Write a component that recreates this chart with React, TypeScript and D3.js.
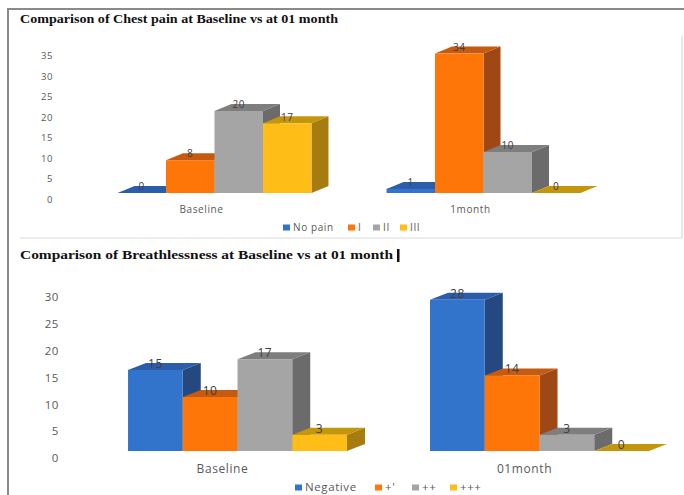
import React from 'react';
import * as d3 from 'd3';

// ---------- DATA ----------
const chestCategories = ['Baseline', '1month'];
const chestSeries = ['No pain', 'I', 'II', 'III'];
const chestNoPain = [0, 1];
const chestI = [8, 34];
const chestII = [20, 10];
const chestIII = [17, 0];
const chestTicks = [0, 5, 10, 15, 20, 25, 30, 35];

const breathCategories = ['Baseline', '01month'];
const breathSeries = ['Negative', "+'", '++', '+++'];
const breathNegative = [15, 28];
const breathPlus1 = [10, 14];
const breathPlus2 = [17, 3];
const breathPlus3 = [3, 0];
const breathTicks = [0, 5, 10, 15, 20, 25, 30];

// ---------- STYLE ----------
const palette = [
  { front: '#3274CC', top: '#2C5DAA', side: '#24487F' },
  { front: '#FF7608', top: '#C55A11', side: '#A04716' },
  { front: '#A5A5A5', top: '#7E7E7E', side: '#6B6B6B' },
  { front: '#FFBE17', top: '#C4960C', side: '#A67C10' },
];
const FONT = "'Open Sans', Lato, sans-serif";

type ChartProps = {
  title: string;
  titleX: number;
  titleY: number;
  titleSize: number;
  titleLen: number;
  categories: string[];
  series: string[];
  values: number[][];
  ticks: number[];
  xRange: [number, number];
  padding: number;
  baseY: number;
  pxPerUnit: number;
  tickBase: number;
  tickPx: number;
  tickX: number;
  dx: number;
  dy: number;
  catLabelY: number;
  catOffset: number;
  fontSize: number;
  spacing: number;
  legendX: number[];
  legendY: number;
  legendSq: number;
  legendFont: number;
};

function Chart3D(p: ChartProps) {
  const maxT = p.ticks[p.ticks.length - 1];
  const x0 = d3
    .scaleBand<string>()
    .domain(p.categories)
    .range(p.xRange)
    .paddingInner(p.padding)
    .paddingOuter(p.padding / 2);
  const x1 = d3.scaleBand<string>().domain(p.series).range([0, x0.bandwidth()]).padding(0);
  const y = d3.scaleLinear().domain([0, maxT]).range([p.baseY, p.baseY - maxT * p.pxPerUnit]);
  const yTick = d3.scaleLinear().domain([0, maxT]).range([p.tickBase, p.tickBase - maxT * p.tickPx]);
  const bw = x1.bandwidth();

  const bars: JSX.Element[] = [];
  const labels: JSX.Element[] = [];
  p.categories.forEach((cat, ci) => {
    p.series.forEach((s, si) => {
      const v = p.values[si][ci];
      const xl = (x0(cat) as number) + (x1(s) as number);
      const xr = xl + bw;
      const yt = y(v);
      const yb = y(0);
      const c = palette[si];
      const side = `M${xr},${yb} L${xr + p.dx},${yb + p.dy} L${xr + p.dx},${yt + p.dy} L${xr},${yt} Z`;
      const top = `M${xl},${yt} L${xr},${yt} L${xr + p.dx},${yt + p.dy} L${xl + p.dx},${yt + p.dy} Z`;
      bars.push(
        <g key={`${ci}-${si}`}>
          <path d={side} fill={c.side} />
          <path d={top} fill={c.top} />
          <rect x={xl} y={yt} width={bw} height={Math.max(0, yb - yt)} fill={c.front} />
        </g>
      );
      labels.push(
        <text
          key={`l${ci}-${si}`}
          x={xl + bw / 2}
          y={yt + p.dy + p.fontSize * 0.42}
          textAnchor="middle"
          fontSize={p.fontSize}
          letterSpacing={p.spacing}
          fill="#404040"
          fontFamily={FONT}
        >
          {v}
        </text>
      );
    });
  });

  return (
    <g>
      <text
        x={p.titleX}
        y={p.titleY}
        fontFamily="'Liberation Serif', 'Times New Roman', serif"
        fontWeight="bold"
        fontSize={p.titleSize}
        textLength={p.titleLen}
        lengthAdjust="spacingAndGlyphs"
        fill="#111"
      >
        {p.title}
      </text>
      {p.ticks.map((t) => (
        <text
          key={t}
          x={p.tickX}
          y={yTick(t) + p.fontSize * 0.35}
          textAnchor="end"
          fontSize={p.fontSize - 0.5}
          letterSpacing={p.spacing}
          fill="#595959"
          fontFamily={FONT}
        >
          {t}
        </text>
      ))}
      {bars}
      {labels}
      {p.categories.map((cat) => (
        <text
          key={cat}
          x={(x0(cat) as number) + x0.bandwidth() / 2 + p.catOffset}
          y={p.catLabelY}
          textAnchor="middle"
          fontSize={p.fontSize}
          letterSpacing={p.spacing}
          fill="#595959"
          fontFamily={FONT}
        >
          {cat}
        </text>
      ))}
      {p.series.map((s, si) => (
        <g key={s}>
          <rect
            x={p.legendX[si]}
            y={p.legendY - p.legendSq - 0.5}
            width={p.legendSq + 1}
            height={p.legendSq}
            fill={palette[si].front}
          />
          <text
            x={p.legendX[si] + p.legendSq + 4}
            y={p.legendY}
            fontSize={p.legendFont}
            letterSpacing={p.spacing}
            fill="#595959"
            fontFamily={FONT}
          >
            {s}
          </text>
        </g>
      ))}
    </g>
  );
}

export default function App() {
  return (
    <svg
      width={684}
      height={495}
      style={{ position: 'absolute', left: 0, top: 0, background: '#fff' }}
    >
      <rect x={0} y={0} width={684} height={495} fill="#fff" />
      <line x1={8} y1={9} x2={684} y2={9} stroke="#8a8a8a" strokeWidth={2} />
      <line x1={8} y1={8} x2={8} y2={495} stroke="#8a8a8a" strokeWidth={2} />
      <line x1={682} y1={36} x2={682} y2={238} stroke="#e2e2e2" strokeWidth={1.5} />
      <line x1={20} y1={238} x2={682} y2={238} stroke="#e6e6e6" strokeWidth={1.5} />
      <Chart3D
        title="Comparison of Chest pain at Baseline vs at 01 month"
        titleX={20}
        titleY={23}
        titleSize={12}
        titleLen={318}
        categories={chestCategories}
        series={chestSeries}
        values={[chestNoPain, chestI, chestII, chestIII]}
        ticks={chestTicks}
        xRange={[80, 618]}
        padding={0.279}
        baseY={193}
        pxPerUnit={4.1}
        tickBase={199}
        tickPx={4.1}
        tickX={53}
        dx={17}
        dy={-7}
        catLabelY={213}
        catOffset={-13}
        fontSize={10}
        spacing={0.6}
        legendX={[283, 348, 373, 400]}
        legendY={231}
        legendSq={6}
        legendFont={10}
      />
      <Chart3D
        title="Comparison of Breathlessness at Baseline vs at 01 month"
        titleX={20}
        titleY={259}
        titleSize={12.5}
        titleLen={373}
        categories={breathCategories}
        series={breathSeries}
        values={[breathNegative, breathPlus1, breathPlus2, breathPlus3]}
        ticks={breathTicks}
        xRange={[86.5, 690.5]}
        padding={0.275}
        baseY={451}
        pxPerUnit={5.4}
        tickBase={458}
        tickPx={5.37}
        tickX={59}
        dx={18}
        dy={-7}
        catLabelY={473}
        catOffset={-15}
        fontSize={12}
        spacing={0.6}
        legendX={[295, 375, 412, 450]}
        legendY={491}
        legendSq={6}
        legendFont={11.5}
      />
      <rect x={397} y={249} width={2.5} height={13} fill="#111" />
    </svg>
  );
}
